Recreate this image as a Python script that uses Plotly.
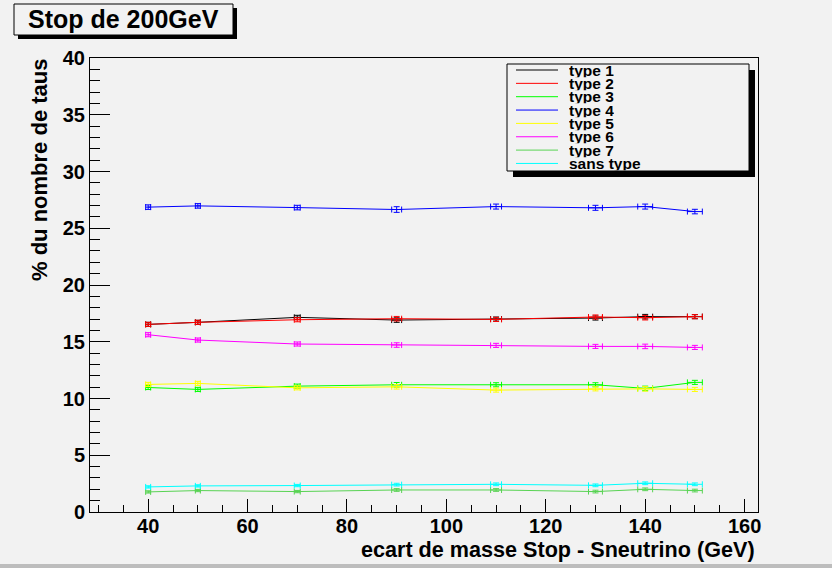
import plotly.graph_objects as go

# ---- data ----
ecart = [40, 50, 70, 90, 110, 130, 140, 150]
ecart_err = [0.5, 0.5, 0.6, 1.0, 1.1, 1.4, 1.5, 1.5]

type1 = [16.53, 16.71, 17.15, 16.91, 17.00, 17.09, 17.21, 17.21]
type2 = [16.53, 16.71, 16.94, 17.03, 16.97, 17.18, 17.12, 17.21]
type3 = [10.97, 10.80, 11.09, 11.21, 11.21, 11.21, 10.89, 11.42]
type4 = [26.86, 26.97, 26.82, 26.65, 26.91, 26.80, 26.91, 26.47]
type5 = [11.24, 11.33, 10.94, 11.03, 10.74, 10.85, 10.85, 10.80]
type6 = [15.62, 15.15, 14.80, 14.71, 14.68, 14.59, 14.59, 14.50]
type7 = [1.77, 1.89, 1.80, 1.94, 1.94, 1.80, 2.00, 1.89]
sans_type = [2.21, 2.30, 2.33, 2.41, 2.44, 2.35, 2.53, 2.44]

err_high = [0.20, 0.20, 0.20, 0.25, 0.22, 0.22, 0.22, 0.20]
err_mid = [0.18, 0.18, 0.18, 0.20, 0.18, 0.18, 0.20, 0.18]
err_low = [0.10, 0.10, 0.10, 0.12, 0.12, 0.12, 0.12, 0.12]

names = ["type 1", "type 2", "type 3", "type 4", "type 5", "type 6", "type 7", "sans type"]
series = [type1, type2, type3, type4, type5, type6, type7, sans_type]
errors = [err_mid, err_mid, err_mid, err_high, err_mid, err_mid, err_low, err_low]
colors = ["#000000", "#ff0000", "#00ff00", "#0000ff", "#ffff00", "#ff00ff", "#59d354", "#00ffff"]

title_text = "Stop de 200GeV"
x_title = "ecart de masse Stop - Sneutrino (GeV)"
y_title = "% du nombre de taus"

BG = "#f2f2f2"
FONT = "Liberation Sans"

# plot area in pixels
PX0, PX1, PY0, PY1 = 90, 758, 58, 512
W, H = 832, 568


def px(x):
    return (x - PX0) / (PX1 - PX0)


def py(y):
    return (PY1 - y) / (PY1 - PY0)


fig = go.Figure()
for name, ys, es, c in zip(names, series, errors, colors):
    fig.add_trace(go.Scatter(
        x=ecart, y=ys, name=name, mode="lines",
        line=dict(color=c, width=1),
        error_x=dict(type="data", array=ecart_err, color=c, thickness=1, width=3),
        error_y=dict(type="data", array=es, color=c, thickness=1, width=3),
        showlegend=False,
    ))

shapes = []
annotations = []

# title box with shadow
shapes.append(dict(type="rect", xref="paper", yref="paper",
                   x0=px(18), x1=px(237), y0=py(8), y1=py(39),
                   fillcolor="#000000", line=dict(width=0)))
shapes.append(dict(type="rect", xref="paper", yref="paper",
                   x0=px(14), x1=px(233), y0=py(4), y1=py(35),
                   fillcolor=BG, line=dict(color="#000000", width=1)))
annotations.append(dict(text=title_text, xref="paper", yref="paper",
                        x=px(123), y=py(19), xanchor="center", yanchor="middle",
                        showarrow=False,
                        font=dict(family=FONT, size=25, color="#000000", weight="bold")))

# legend box with shadow
LX0, LX1, LY0, LY1 = 507, 749, 64, 171
shapes.append(dict(type="rect", xref="paper", yref="paper",
                   x0=px(LX0 + 6), x1=px(LX1 + 6), y0=py(LY0 + 6), y1=py(LY1 + 6),
                   fillcolor="#000000", line=dict(width=0)))
shapes.append(dict(type="rect", xref="paper", yref="paper",
                   x0=px(LX0), x1=px(LX1), y0=py(LY0), y1=py(LY1),
                   fillcolor=BG, line=dict(color="#000000", width=1)))
for i, (name, c) in enumerate(zip(names, colors)):
    yc = 70 + 13.35 * i
    shapes.append(dict(type="line", xref="paper", yref="paper",
                       x0=px(516), x1=px(558), y0=py(yc), y1=py(yc),
                       line=dict(color=c, width=1)))
    annotations.append(dict(text=name, xref="paper", yref="paper",
                            x=px(567), y=py(yc), xanchor="left", yanchor="middle",
                            height=13.3, valign="middle",
                            showarrow=False,
                            font=dict(family=FONT, size=15.5, color="#000000", weight="bold")))

# axis titles
annotations.append(dict(text=x_title, xref="paper", yref="paper",
                        x=px(757), y=py(549), xanchor="right", yanchor="middle",
                        showarrow=False,
                        font=dict(family=FONT, size=21.6, color="#000000", weight="bold")))
annotations.append(dict(text=y_title, xref="paper", yref="paper",
                        x=px(39), y=py(57), xanchor="center", yanchor="top",
                        textangle=-90, showarrow=False,
                        font=dict(family=FONT, size=22, color="#000000", weight="bold")))

# canvas bottom border
shapes.append(dict(type="rect", xref="paper", yref="paper",
                   x0=px(0), x1=px(W), y0=py(564), y1=py(H),
                   fillcolor="#bdbdbd", line=dict(width=0)))

tickfont = dict(family=FONT, size=20, color="#000000", weight="bold")

fig.update_layout(
    width=W, height=H,
    margin=dict(l=PX0, r=W - PX1, t=PY0, b=H - PY1, pad=0),
    paper_bgcolor=BG, plot_bgcolor=BG,
    shapes=shapes, annotations=annotations,
    showlegend=False,
    xaxis=dict(range=[28.3, 162.7], tickmode="linear", tick0=40, dtick=20,
               ticks="inside", ticklen=13, tickwidth=1, tickcolor="#000000",
               minor=dict(dtick=5, tick0=0, ticks="inside", ticklen=7, tickcolor="#000000"),
               showline=True, linecolor="#000000", linewidth=1, mirror=True,
               showgrid=False, zeroline=False, tickfont=tickfont,
               ticklabelstandoff=-4),
    yaxis=dict(range=[0, 40], tickmode="linear", tick0=0, dtick=5,
               ticks="inside", ticklen=20, tickwidth=1, tickcolor="#000000",
               minor=dict(dtick=1, tick0=0, ticks="inside", ticklen=10, tickcolor="#000000"),
               showline=True, linecolor="#000000", linewidth=1, mirror=True,
               showgrid=False, zeroline=False, tickfont=tickfont),
)

fig.write_html("out.html")
